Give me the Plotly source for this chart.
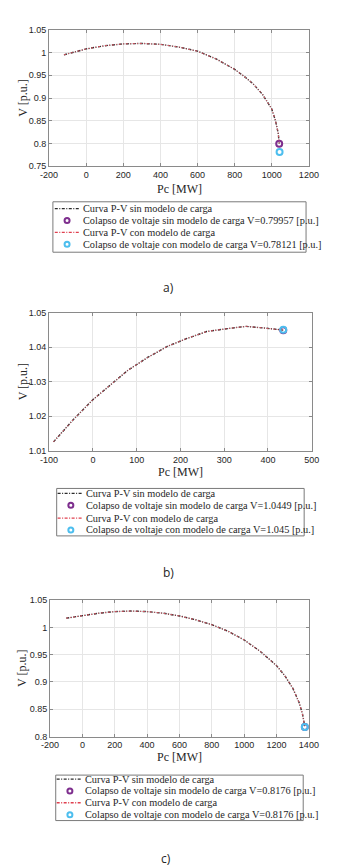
import plotly.graph_objects as go

W, H = 343, 866

# ---------------- data ----------------
a_p = [-120, -50, 0, 100, 200, 300, 400, 500, 600, 700, 800, 850, 900, 950, 1000, 1020, 1035, 1040]
a_v = [0.995, 1.003, 1.008, 1.015, 1.019, 1.020, 1.018, 1.012, 1.003, 0.986, 0.963, 0.948, 0.931, 0.908, 0.876, 0.850, 0.822, 0.800]
a_col_sin = (1040, 0.79957)
a_col_con = (1042, 0.78121)

b_p = [-90, -45, 0, 40, 80, 125, 170, 215, 260, 305, 350, 392, 435]
b_v = [1.0126, 1.0190, 1.0248, 1.0290, 1.0333, 1.0370, 1.0402, 1.0425, 1.0445, 1.0453, 1.0460, 1.0455, 1.0449]
b_col_sin = (435, 1.0449)
b_col_con = (435, 1.045)

c_p = [-100, 0, 100, 200, 300, 400, 500, 600, 700, 800, 900, 1000, 1100, 1200, 1250, 1300, 1340, 1360, 1375]
c_v = [1.017, 1.022, 1.026, 1.029, 1.030, 1.029, 1.026, 1.021, 1.014, 1.005, 0.993, 0.977, 0.956, 0.930, 0.912, 0.889, 0.862, 0.842, 0.818]
c_col_sin = (1375, 0.8176)
c_col_con = (1375, 0.8176)

a_xticks = [-200, 0, 200, 400, 600, 800, 1000, 1200]
a_yticks = [0.75, 0.8, 0.85, 0.9, 0.95, 1.0, 1.05]
a_yticktext = ["0.75", "0.8", "0.85", "0.9", "0.95", "1", "1.05"]
b_xticks = [-100, 0, 100, 200, 300, 400, 500]
b_yticks = [1.01, 1.02, 1.03, 1.04, 1.05]
b_yticktext = ["1.01", "1.02", "1.03", "1.04", "1.05"]
c_xticks = [-200, 0, 200, 400, 600, 800, 1000, 1200, 1400]
c_yticks = [0.8, 0.85, 0.9, 0.95, 1.0, 1.05]
c_yticktext = ["0.8", "0.85", "0.9", "0.95", "1", "1.05"]

a_labels = ["Curva P-V sin modelo de carga",
            "Colapso de voltaje sin modelo de carga V=0.79957 [p.u.]",
            "Curva P-V con modelo de carga",
            "Colapso de voltaje con modelo de carga V=0.78121 [p.u.]"]
b_labels = ["Curva P-V sin modelo de carga",
            "Colapso de voltaje sin modelo de carga V=1.0449 [p.u.]",
            "Curva P-V con modelo de carga",
            "Colapso de voltaje con modelo de carga V=1.045 [p.u.]"]
c_labels = ["Curva P-V sin modelo de carga",
            "Colapso de voltaje sin modelo de carga V=0.8176 [p.u.]",
            "Curva P-V con modelo de carga",
            "Colapso de voltaje con modelo de carga V=0.8176 [p.u.]"]
captions = ["a)", "b)", "c)"]

# ---------------- style ----------------
BLACK = "#2b2b2b"
RED = "#e05563"
PURPLE = "#7E2F8E"
CYAN = "#4DBEEE"
SERIF = "Liberation Serif, Times New Roman, serif"
SANS = "Liberation Sans, Arial, sans-serif"
DASH = "3px,1.5px,1px,1.5px"

def px(x):
    return x / W

def py(y):
    return 1 - y / H

panels = [
    dict(p=a_p, v=a_v, sin=a_col_sin, con=a_col_con, xt=a_xticks, yt=a_yticks, ytt=a_yticktext,
         xr=[-200, 1200], yr=[0.75, 1.05], box=(34, 309, 17, 155), xtitle_y=178,
         leg=dict(box=(38, 306, 191, 242), lx0=40, lx1=67, mx=53, tx=68, rows=[198, 210, 222, 234]),
         labels=a_labels, cap=(160, 278)),
    dict(p=b_p, v=b_v, sin=b_col_sin, con=b_col_con, xt=b_xticks, yt=b_yticks, ytt=b_yticktext,
         xr=[-100, 500], yr=[1.01, 1.05], box=(34, 312, 303, 443), xtitle_y=464,
         leg=dict(box=(42, 304, 481, 529), lx0=43, lx1=70, mx=57, tx=71, rows=[486, 498, 511, 523]),
         labels=b_labels, cap=(160, 566)),
    dict(p=c_p, v=c_v, sin=c_col_sin, con=c_col_con, xt=c_xticks, yt=c_yticks, ytt=c_yticktext,
         xr=[-200, 1400], yr=[0.8, 1.05], box=(35, 309, 594, 732), xtitle_y=753,
         leg=dict(box=(41, 303, 771, 817), lx0=42, lx1=69, mx=56, tx=70, rows=[775, 787, 799, 811]),
         labels=c_labels, cap=(158, 855)),
]

fig = go.Figure()
shapes = []
annotations = []
layout = {}

for i, pn in enumerate(panels, start=1):
    xa = "x" if i == 1 else f"x{i}"
    ya = "y" if i == 1 else f"y{i}"
    fig.add_trace(go.Scatter(x=pn["p"], y=pn["v"], mode="lines", xaxis=xa, yaxis=ya,
                             line=dict(color=BLACK, width=1.4, dash=DASH), showlegend=False))
    fig.add_trace(go.Scatter(x=[pn["sin"][0]], y=[pn["sin"][1]], mode="markers", xaxis=xa, yaxis=ya,
                             marker=dict(symbol="circle-open", size=6, color=PURPLE, line=dict(width=2)),
                             showlegend=False))
    fig.add_trace(go.Scatter(x=pn["p"], y=pn["v"], mode="lines", xaxis=xa, yaxis=ya,
                             line=dict(color=RED, width=1.0, dash="2px,2px,1px,2px"), showlegend=False))
    fig.add_trace(go.Scatter(x=[pn["con"][0]], y=[pn["con"][1]], mode="markers", xaxis=xa, yaxis=ya,
                             marker=dict(symbol="circle-open", size=6, color=CYAN, line=dict(width=2)),
                             showlegend=False))

    x0, x1, y0, y1 = pn["box"]
    axcommon = dict(showline=True, linecolor="#8a8a8a", linewidth=1, mirror="ticks",
                    ticks="inside", ticklen=3, tickcolor="#8a8a8a",
                    showgrid=True, gridcolor="#e6e6e6", gridwidth=1, zeroline=False,
                    tickfont=dict(family=SANS, size=9, color="#262626"))
    layout["xaxis" if i == 1 else f"xaxis{i}"] = dict(
        domain=[px(x0), px(x1)], range=pn["xr"], tickvals=pn["xt"],
        ticktext=[str(t) for t in pn["xt"]], anchor=ya, **axcommon)
    layout["yaxis" if i == 1 else f"yaxis{i}"] = dict(
        domain=[py(y1), py(y0)], range=pn["yr"], tickvals=pn["yt"], ticktext=pn["ytt"],
        anchor=xa, **axcommon)

    # axis titles
    annotations.append(dict(text="Pc [MW]", x=px((x0 + x1) / 2), y=py(pn["xtitle_y"]),
                            xref="paper", yref="paper", showarrow=False,
                            font=dict(family=SERIF, size=12, color="#262626"),
                            xanchor="center", yanchor="middle"))
    annotations.append(dict(text="V [p.u.]", x=px(6), y=py((y0 + y1) / 2), textangle=-90,
                            xref="paper", yref="paper", showarrow=False,
                            font=dict(family=SERIF, size=12, color="#262626"),
                            xanchor="center", yanchor="middle"))

    # legend (drawn manually)
    lg = pn["leg"]
    bx0, bx1, by0, by1 = lg["box"]
    shapes.append(dict(type="rect", xref="paper", yref="paper",
                       x0=px(bx0), x1=px(bx1), y0=py(by1), y1=py(by0),
                       line=dict(color="#7a7a7a", width=1), fillcolor="white", layer="above"))
    for k, (lab, row) in enumerate(zip(pn["labels"], lg["rows"])):
        if k in (0, 2):
            shapes.append(dict(type="line", xref="paper", yref="paper",
                               x0=px(lg["lx0"]), x1=px(lg["lx1"]), y0=py(row), y1=py(row),
                               line=dict(color=BLACK if k == 0 else "#e0404f", width=1.3, dash=DASH),
                               layer="above"))
        else:
            shapes.append(dict(type="circle", xref="paper", yref="paper",
                               xsizemode="pixel", ysizemode="pixel",
                               xanchor=px(lg["mx"]), yanchor=py(row),
                               x0=-2.5, x1=2.5, y0=-2.5, y1=2.5,
                               line=dict(color=PURPLE if k == 1 else CYAN, width=2),
                               layer="above"))
        annotations.append(dict(text=lab, x=px(lg["tx"]), y=py(row), xref="paper", yref="paper",
                                showarrow=False, xanchor="left", yanchor="middle",
                                font=dict(family=SERIF, size=10.3, color="#262626")))

    annotations.append(dict(text=captions[i - 1], x=px(pn["cap"][0]), y=py(pn["cap"][1]),
                            xref="paper", yref="paper", showarrow=False,
                            xanchor="center", yanchor="middle",
                            font=dict(family="Open Sans, Noto Sans, sans-serif", size=12, color="#262626")))

fig.update_layout(width=W, height=H, margin=dict(l=0, r=0, t=0, b=0),
                  paper_bgcolor="white", plot_bgcolor="white",
                  shapes=shapes, annotations=annotations, showlegend=False, **layout)

fig.write_html("out.html")
